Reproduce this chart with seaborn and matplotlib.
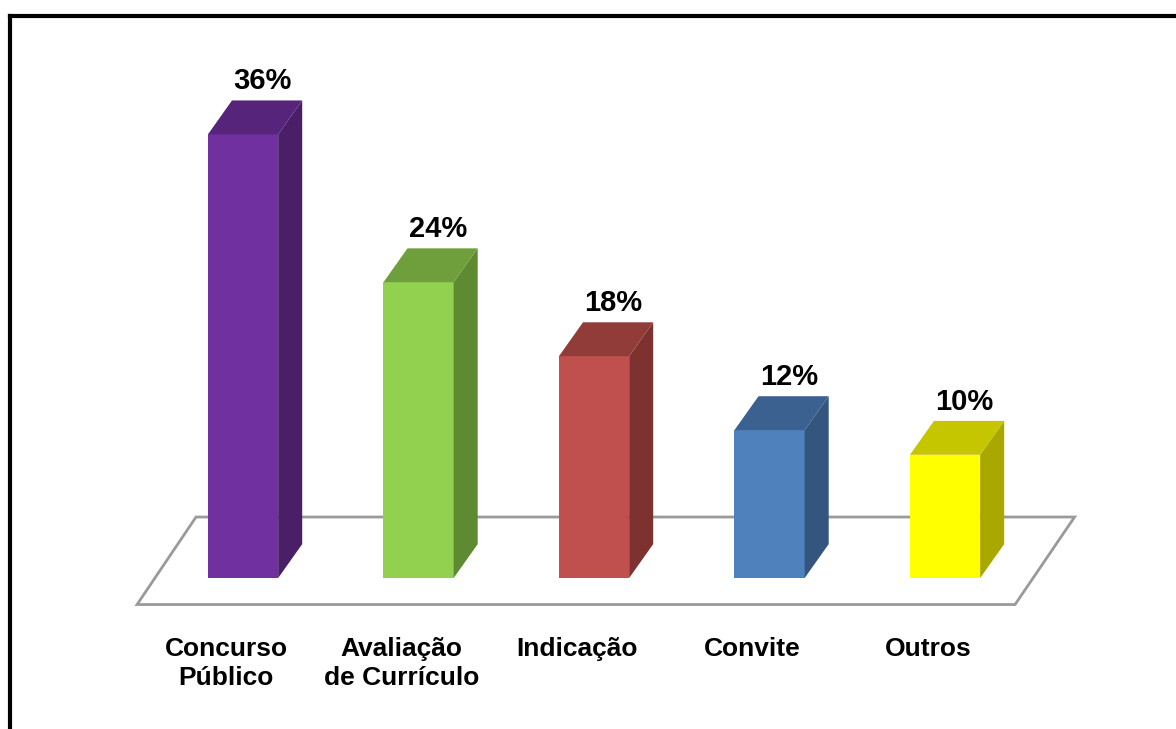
import matplotlib
matplotlib.use("Agg")
import matplotlib.pyplot as plt
from matplotlib.patches import Polygon
from matplotlib.lines import Line2D
import seaborn as sns

categories = ["Concurso\nPúblico", "Avaliação\nde Currículo", "Indicação", "Convite", "Outros"]
values = [36, 24, 18, 12, 10]
value_labels = ["36%", "24%", "18%", "12%", "10%"]

front_colors = ["#7030A0", "#92D050", "#C0504D", "#4F81BD", "#FFFF00"]
side_colors = ["#4A1F68", "#5E8A31", "#7E3230", "#34557D", "#A8A800"]
top_colors = ["#56247B", "#6F9E3D", "#923C3A", "#3B6190", "#C6C600"]

sns.set_theme(style="white")
plt.rcParams["font.family"] = ["Liberation Sans", "DejaVu Sans"]

W, H = 1176, 729
fig = plt.figure(figsize=(W / 100, H / 100), dpi=100)
ax = fig.add_axes([0, 0, 1, 1])

sns.barplot(x=categories, y=values, hue=categories, palette=front_colors,
            width=0.4, saturation=1, legend=False, ax=ax, zorder=2)

# category spacing ~175.5 px, 12.33 px per percentage point
ax.set_xlim(-1.385, 5.316)
ax.set_ylim(-12.25, 46.9)
ax.set_axis_off()

# 3D depth offsets in data units
dx, dy = 0.137, 2.75

# floor plane
floor = Polygon([(-0.604, -2.15), (4.399, -2.15), (4.738, 4.95), (-0.268, 4.95)],
                closed=True, facecolor="white", edgecolor="#9a9a9a",
                linewidth=2, zorder=0)
ax.add_patch(floor)

bars = [p for c in ax.containers for p in c]
for i, p in enumerate(bars):
    x0 = p.get_x()
    x1 = x0 + p.get_width()
    h = p.get_height()
    p.set_edgecolor("none")
    side = Polygon([(x1, 0), (x1 + dx, dy), (x1 + dx, h + dy), (x1, h)],
                   closed=True, facecolor=side_colors[i], edgecolor="none", zorder=2)
    top = Polygon([(x0, h), (x0 + dx, h + dy), (x1 + dx, h + dy), (x1, h)],
                  closed=True, facecolor=top_colors[i], edgecolor="none", zorder=2)
    ax.add_patch(side)
    ax.add_patch(top)
    cx = x0 + p.get_width() / 2
    ax.text(cx + dx * 0.8, h + dy + 0.9, value_labels[i], ha="center", va="baseline",
            fontsize=21, fontweight="bold", color="black", zorder=3)
    ax.text(cx - 0.097, -4.8, categories[i], ha="center", va="top",
            fontsize=19, fontweight="bold", color="black", linespacing=1.27, zorder=3)

# outer frame (extends past the right and bottom edges)
fig.add_artist(Line2D([10 / W, 10 / W], [0, 1 - 16 / H], transform=fig.transFigure,
                      color="black", linewidth=3, solid_capstyle="projecting"))
fig.add_artist(Line2D([10 / W, 1], [1 - 16 / H, 1 - 16 / H], transform=fig.transFigure,
                      color="black", linewidth=3, solid_capstyle="projecting"))

fig.savefig("out.png", dpi=100)
